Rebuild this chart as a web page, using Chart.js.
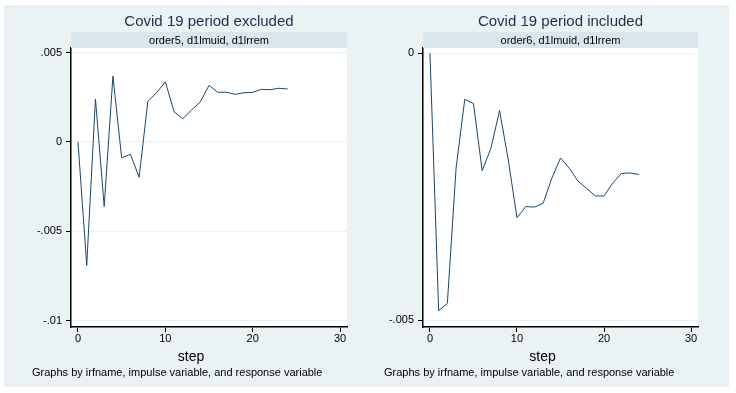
<!DOCTYPE html>
<html>
<head>
<meta charset="utf-8">
<script src="https://cdn.jsdelivr.net/npm/chart.js@4.4.1/dist/chart.umd.min.js"></script>
<style>
    html, body { margin: 0; padding: 0; background: #ffffff; }
    #wrap { position: relative; width: 736px; height: 393px; overflow: hidden; }
    #bg { position: absolute; left: 4px; top: 5px; width: 725px; height: 382px; background: #eaf2f3; }
    canvas { position: absolute; left: 0; top: 0; }
</style>
</head>
<body>
<div id="wrap">
    <div id="bg"></div>
    <canvas id="leftChart" width="736" height="393"></canvas>
    <canvas id="rightChart" width="736" height="393"></canvas>
</div>
<script>
// impulse response steps
const steps = [0, 1, 2, 3, 4, 5, 6, 7, 8, 9, 10, 11, 12, 13, 14, 15, 16, 17, 18, 19, 20, 21, 22, 23, 24];

// order5, d1lmuid, d1lrrem (covid 19 period excluded)
const excludedIrf = [0, -0.0069, 0.0024, -0.0036, 0.00368, -0.00089, -0.00069, -0.00197, 0.00227, 0.00275,
    0.00336, 0.00169, 0.0013, 0.00178, 0.00224, 0.00316, 0.00278, 0.00278, 0.00266, 0.00275,
    0.00277, 0.00294, 0.00292, 0.003, 0.00296];

// order6, d1lmuid, d1lrrem (covid 19 period included)
const includedIrf = [0, -0.00482, -0.00468, -0.00215, -0.00086, -0.00094, -0.0022, -0.00178, -0.00107, -0.002,
    -0.00308, -0.00287, -0.00288, -0.00281, -0.00234, -0.00196, -0.00215, -0.00239, -0.00253, -0.00267,
    -0.00267, -0.00243, -0.00225, -0.00224, -0.00227];

const xTicks = [0, 10, 20, 30];
const xTickLabels = ['0', '10', '20', '30'];

const leftYTicks = [-0.01, -0.005, 0, 0.005];
const leftYLabels = ['-.01', '-.005', '0', '.005'];

const rightYTicks = [-0.005, 0];
const rightYLabels = ['-.005', '0'];

const FONT = "'Liberation Sans', Arial, Helvetica, sans-serif";
const LINE_COLOR = '#1a476f';
const GRID_COLOR = '#eaf2f3';

// draws the white plot region, the title, the by-strip and the footnote
const panelDecor = {
    id: 'panelDecor',
    beforeDraw(chart, args, opts) {
        const ctx = chart.ctx;
        const a = chart.chartArea;
        ctx.save();
        ctx.fillStyle = '#ffffff';
        ctx.fillRect(a.left, a.top, a.right - a.left, a.bottom - a.top);
        ctx.restore();
    },
    afterDraw(chart, args, opts) {
        const ctx = chart.ctx;
        const a = chart.chartArea;
        const mid = (a.left + a.right) / 2;
        ctx.save();
        // strip
        ctx.fillStyle = '#d9e6eb';
        ctx.fillRect(a.left, 32, a.right - a.left, 16);
        ctx.fillStyle = '#000000';
        ctx.font = '11px ' + FONT;
        ctx.textAlign = 'center';
        ctx.textBaseline = 'middle';
        ctx.fillText(opts.strip, mid, 40.5);
        // title
        ctx.fillStyle = '#1c2f4f';
        ctx.font = '15px ' + FONT;
        ctx.fillText(opts.title, mid, 22);
        // axis title
        ctx.fillStyle = '#000000';
        ctx.font = '14px ' + FONT;
        ctx.fillText('step', mid - 18, 357);
        // note
        ctx.font = '11px ' + FONT;
        ctx.textAlign = 'left';
        ctx.fillText('Graphs by irfname, impulse variable, and response variable', a.left - 39, 373);
        ctx.restore();
    }
};

function makePanel(id, values, yTicks, yLabels, yMin, yMax, pad, yWidth, title, strip) {
    return new Chart(document.getElementById(id), {
        type: 'line',
        data: {
            datasets: [{
                data: steps.map((s, i) => ({ x: s, y: values[i] })),
                borderColor: LINE_COLOR,
                borderWidth: 1,
                pointRadius: 0,
                tension: 0,
                fill: false
            }]
        },
        options: {
            responsive: false,
            animation: false,
            events: [],
            layout: { padding: pad },
            plugins: {
                legend: { display: false },
                tooltip: { enabled: false },
                panelDecor: { title: title, strip: strip }
            },
            scales: {
                x: {
                    type: 'linear',
                    min: -0.8,
                    max: 30.8,
                    afterBuildTicks: (scale) => { scale.ticks = xTicks.map(v => ({ value: v })); },
                    afterFit: (scale) => { scale.height = 66; },
                    ticks: {
                        callback: (v) => xTickLabels[xTicks.indexOf(v)],
                        color: '#000000',
                        font: { family: FONT, size: 11 },
                        padding: 0,
                        maxRotation: 0
                    },
                    grid: { drawOnChartArea: false, tickColor: '#000000', tickLength: 5 },
                    border: { display: true, color: '#000000', width: 1.5 }
                },
                y: {
                    type: 'linear',
                    min: yMin,
                    max: yMax,
                    afterBuildTicks: (scale) => { scale.ticks = yTicks.map(v => ({ value: v })); },
                    afterFit: (scale) => { scale.width = yWidth; },
                    ticks: {
                        callback: (v) => yLabels[yTicks.indexOf(v)],
                        color: '#000000',
                        font: { family: FONT, size: 11 },
                        padding: 4
                    },
                    grid: { color: GRID_COLOR, lineWidth: 1, tickColor: '#000000', tickLength: 5 },
                    border: { display: true, color: '#000000', width: 1.5 }
                }
            }
        },
        plugins: [panelDecor]
    });
}

makePanel('leftChart', excludedIrf, leftYTicks, leftYLabels, -0.01034, 0.00525,
    { left: 0, right: 389, top: 48, bottom: 0 }, 71,
    'Covid 19 period excluded', 'order5, d1lmuid, d1lrrem');

makePanel('rightChart', includedIrf, rightYTicks, rightYLabels, -0.005125, 0.0001,
    { left: 370, right: 38, top: 48, bottom: 0 }, 53,
    'Covid 19 period included', 'order6, d1lmuid, d1lrrem');
</script>
</body>
</html>
